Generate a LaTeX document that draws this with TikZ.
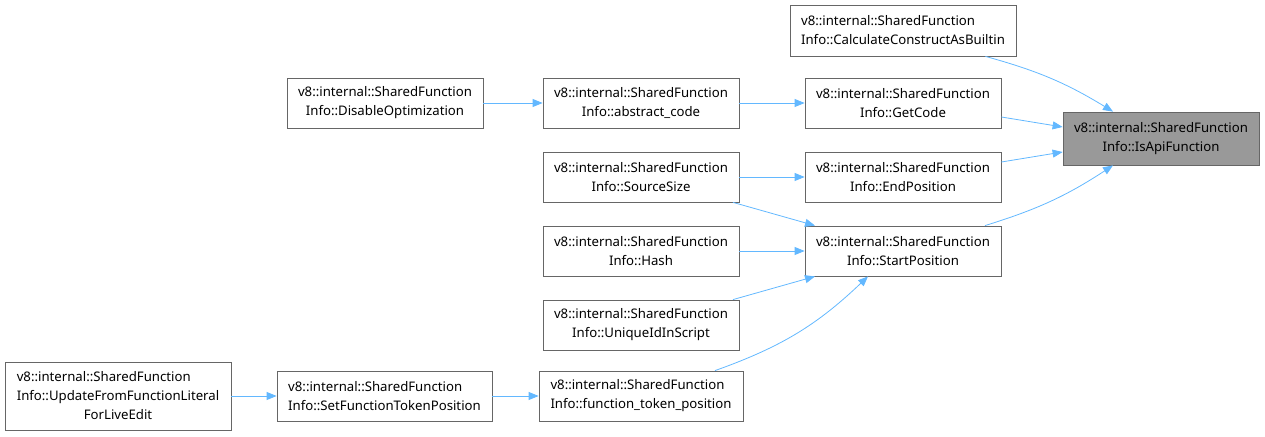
\documentclass[tikz,border=0pt]{standalone}
\usepackage{fontspec}
\setmainfont{Noto Sans}
\usepackage{tikz}
\usetikzlibrary{positioning, arrows.meta}
\definecolor{dEdge}{HTML}{63B8FF}
\definecolor{dBorder}{HTML}{666666}
\definecolor{dHilite}{HTML}{999999}
% first row set flush left over the width of the widest row
\newcommand{\leftrow}[2]{\rlap{#1}\hphantom{#2}}
\tikzset{
  fnbox/.style={draw=dBorder, line width=0.8pt, fill=white, align=center, inner sep=0pt,
    font=\fontsize{13.2}{19}\selectfont, minimum height=50pt, minimum width=196pt},
  fnhl/.style={fnbox, fill=dHilite, minimum height=53pt},
  callarrow/.style={draw=dEdge, line width=0.8pt, -{Triangle[length=10pt,width=8pt]}}
}
\begin{document}
\begin{tikzpicture}[x=1pt, y=1pt]
  \useasboundingbox (0,0) rectangle (1265,436);
  % callee
  \node[fnhl] (isapi) at (1161,297.5) {v8::internal::SharedFunction\\Info::IsApiFunction};
  % direct callers
  \node[fnbox, minimum width=226pt, minimum height=51pt] (calc) at (903,405.5)
    {\leftrow{v8::internal::SharedFunction}{Info::CalculateConstructAsBuiltin}\\Info::CalculateConstructAsBuiltin};
  \node[fnbox] (getcode) at (903,333) {v8::internal::SharedFunction\\Info::GetCode};
  \node[fnbox] (endpos) at (903,259) {v8::internal::SharedFunction\\Info::EndPosition};
  \node[fnbox] (startpos) at (903,185) {v8::internal::SharedFunction\\Info::StartPosition};
  % second level
  \node[fnbox] (abscode) at (641,333) {v8::internal::SharedFunction\\Info::abstract\_code};
  \node[fnbox] (disable) at (385,333) {v8::internal::SharedFunction\\Info::DisableOptimization};
  \node[fnbox] (srcsize) at (641,259) {v8::internal::SharedFunction\\Info::SourceSize};
  \node[fnbox] (hash) at (641,185) {v8::internal::SharedFunction\\Info::Hash};
  \node[fnbox] (uniqueid) at (641,111) {v8::internal::SharedFunction\\Info::UniqueIdInScript};
  \node[fnbox, minimum width=204pt] (ftpos) at (641,40)
    {\leftrow{v8::internal::SharedFunction}{Info::function\_token\_position}\\Info::function\_token\_position};
  \node[fnbox, minimum width=215pt] (setftpos) at (384.5,40)
    {\leftrow{v8::internal::SharedFunction}{Info::SetFunctionTokenPosition}\\Info::SetFunctionTokenPosition};
  \node[fnbox, minimum width=226pt, minimum height=68pt] (update) at (118,40)
    {\leftrow{v8::internal::SharedFunction}{Info::UpdateFromFunctionLiteral}\\Info::UpdateFromFunctionLiteral\\ForLiveEdit};

  % edges
  \draw[callarrow] ([xshift=-31pt]calc.south east) to[bend left=8] ([xshift=-48pt]isapi.north);
  \draw[callarrow] ([yshift=-14pt]getcode.east) -- ([yshift=11.5pt]isapi.west);
  \draw[callarrow] ([yshift=15pt]endpos.east) -- ([yshift=-13.5pt]isapi.west);
  \draw[callarrow] ([xshift=82pt]startpos.north) to[bend right=8] ([xshift=-48pt]isapi.south);
  \draw[callarrow] (abscode) -- (getcode);
  \draw[callarrow] (disable) -- (abscode);
  \draw[callarrow] (srcsize) -- (endpos);
  \draw[callarrow] ([xshift=92pt]srcsize.south) -- ([xshift=-88pt]startpos.north);
  \draw[callarrow] (hash) -- (startpos);
  \draw[callarrow] ([xshift=92pt]uniqueid.north) -- ([xshift=-88pt]startpos.south);
  \draw[callarrow] ([xshift=74pt]ftpos.north) to[bend right=12] ([xshift=-35pt]startpos.south);
  \draw[callarrow] (setftpos) -- (ftpos);
  \draw[callarrow] (update) -- (setftpos);
\end{tikzpicture}
\end{document}
